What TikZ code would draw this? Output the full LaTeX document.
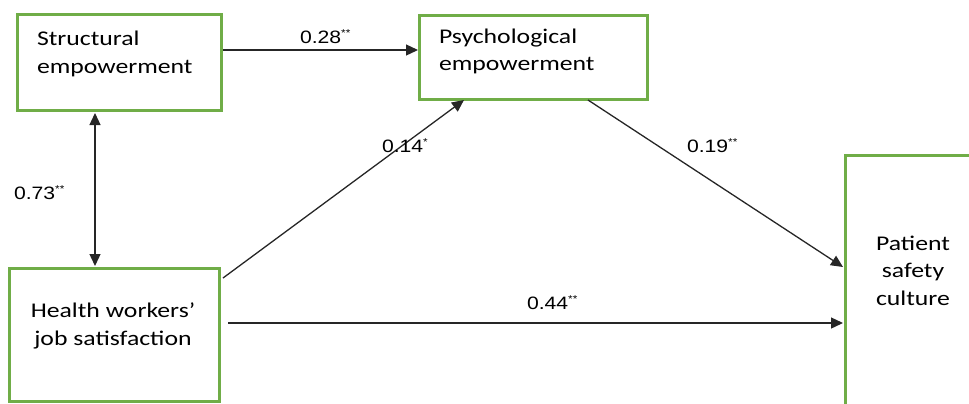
\documentclass[tikz,border=0pt]{standalone}
\usepackage{fontspec}
\setmainfont{Carlito}
\newfontfamily\boxfont[FakeStretch=1.23]{Carlito}
\newfontfamily\labfont[FakeStretch=1.18]{Liberation Sans}
\usetikzlibrary{arrows.meta}
\definecolor{boxgreen}{HTML}{70AD47}
\definecolor{arrowgray}{HTML}{262626}
\tikzset{
  vbox/.style={draw=boxgreen, line width=2.6bp, fill=none, inner sep=0pt, outer sep=0pt},
  boxtxt/.style={inner sep=0pt, outer sep=0pt, font=\boxfont\fontsize{21}{25}\selectfont, text=black},
  labtxt/.style={inner sep=0pt, outer sep=0pt, anchor=base west, font=\labfont\fontsize{18}{20}\selectfont, text=black},
  conn/.style={draw=arrowgray, line width=1.3bp, -{Triangle[length=12bp,width=11bp]}},
  biconn/.style={draw=arrowgray, line width=1.3bp, {Triangle[length=12bp,width=11bp]}-{Triangle[length=12bp,width=11bp]}}
}
\newcommand{\stars}{\textsuperscript{\fontsize{10}{10}\selectfont **}}
\begin{document}
\begin{tikzpicture}[x=1bp,y=-1bp]
\useasboundingbox (0,0) rectangle (969,403);
\begin{scope}
\clip (0,0) rectangle (969,403);
% boxes
\node[vbox, minimum width=204bp, minimum height=96bp, anchor=north west] (se) at (17.3,14.3) {};
\node[vbox, minimum width=228bp, minimum height=84bp, anchor=north west] (pe) at (419.3,15.3) {};
\node[vbox, minimum width=210bp, minimum height=133bp, anchor=north west] (hw) at (9.3,268.3) {};
\node[vbox, minimum width=140bp, minimum height=260bp, anchor=north west] (ps) at (845.3,155.3) {};
\end{scope}
% box texts
\node[boxtxt, anchor=base west] (se1) at (37,45) {Structural};
\node[boxtxt, anchor=base west] (se2) at (37,73) {empowerment};
\node[boxtxt, anchor=base west] (pe1) at (439,43) {Psychological};
\node[boxtxt, anchor=base west] (pe2) at (439,70) {empowerment};
\node[boxtxt, anchor=base] (hw1) at (113,317) {Health workers’};
\node[boxtxt, anchor=base] (hw2) at (113,345) {job satisfaction};
\node[boxtxt, anchor=base] (ps1) at (913,250) {Patient};
\node[boxtxt, anchor=base] (ps2) at (913,277) {safety};
\node[boxtxt, anchor=base] (ps3) at (913,305) {culture};
% connector end points
\coordinate (a1) at (223,50);
\coordinate (a2) at (418,50);
\coordinate (b1) at (95,113);
\coordinate (b2) at (95,266);
\coordinate (c1) at (223,278);
\coordinate (c2) at (464,100);
\coordinate (d1) at (588,100);
\coordinate (d2) at (843,267);
\coordinate (e1) at (228,323);
\coordinate (e2) at (843,323);
\draw[conn] (a1) -- (a2);
\draw[biconn] (b1) -- (b2);
\draw[conn] (c1) -- (c2);
\draw[conn] (d1) -- (d2);
\draw[conn] (e1) -- (e2);
% labels
\node[labtxt] (l28) at (300,43) {0.28\stars};
\node[labtxt] (l73) at (14,199) {0.73\stars};
\node[labtxt] (l14) at (382,152) {0.14\textsuperscript{\fontsize{10}{10}\selectfont *}};
\node[labtxt] (l19) at (687,152) {0.19\stars};
\node[labtxt] (l44) at (527,309) {0.44\stars};
\end{tikzpicture}
\end{document}
